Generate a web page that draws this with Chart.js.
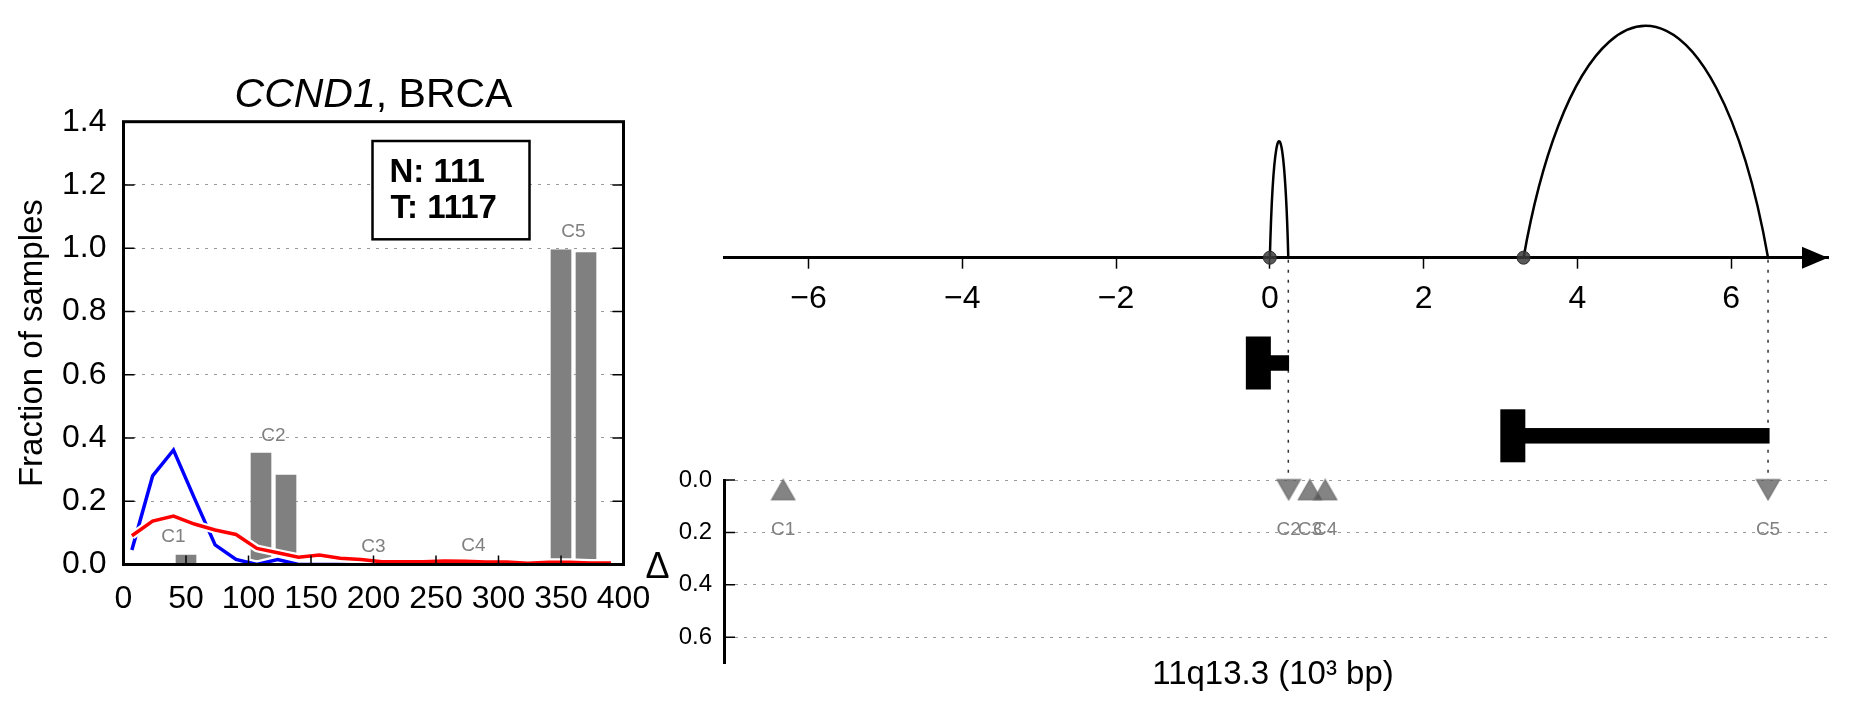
<!DOCTYPE html>
<html>
<head>
<meta charset="utf-8">
<title>CCND1, BRCA</title>
<script src="https://cdn.jsdelivr.net/npm/chart.js@4.4.1/dist/chart.umd.min.js"></script>
<style>
  html, body { margin: 0; padding: 0; background: #fff; }
  #wrap { position: relative; width: 1851px; height: 718px; overflow: hidden; }
  canvas { position: absolute; }
  #histChart { left: 0; top: 0; width: 660px; height: 718px; }
  #arcChart { left: 640px; top: 0; width: 1211px; height: 500px; }
  #deltaChart { left: 640px; top: 440px; width: 1211px; height: 278px; }
</style>
</head>
<body>
<div id="wrap">
  <canvas id="histChart" width="660" height="718"></canvas>
  <canvas id="arcChart" width="1211" height="500"></canvas>
  <canvas id="deltaChart" width="1211" height="278"></canvas>
</div>
<script>
const FONT = '"Liberation Sans", Arial, Helvetica, sans-serif';

// left panel: fraction of samples per bin
const binX = [6.7, 23.3, 40, 56.7, 73.3, 90, 106.7, 123.3, 140, 156.7, 173.3, 190,
              206.7, 223.3, 240, 256.7, 273.3, 290, 306.7, 323.3, 340, 356.7, 373.3, 390];
const normalFrac = [0.046, 0.28, 0.362, 0.21, 0.062, 0.016, 0, 0.016, 0, 0, 0, 0,
                    0, 0, 0, 0, 0, 0, 0, 0, 0, 0, 0, 0];
const tumorFrac = [0.091, 0.137, 0.153, 0.128, 0.109, 0.095, 0.051, 0.037, 0.023, 0.030, 0.020, 0.016,
                   0.009, 0.009, 0.009, 0.011, 0.010, 0.008, 0.008, 0.004, 0.007, 0.007, 0.005, 0.005];

const clusterNames = ['C1', 'C2', 'C3', 'C4', 'C5'];
const clusterX = [40, 120, 200, 280, 360];
const barX = [30, 50, 110, 130, 190, 210, 270, 290, 350, 370];
const barVals = [0, 0.03, 0.352, 0.283, 0, 0, 0, 0.004, 0.995, 0.986];

const nCount = 111;
const tCount = 1117;

// right panel: region (10^3 bp)
const arcStart = [0.0, 3.30];
const arcEnd = [0.24, 6.48];
const arcHeight = [0.49, 0.975];
const geneStart = [0.0, 3.31];
const geneEnd = [0.25, 6.50];
const geneLane = [0, 1];

const deltaX = [-6.33, 0.245, 0.52, 0.72, 6.48];
const deltaY = [0.037, 0.037, 0.037, 0.037, 0.037];
const deltaDir = ['up', 'down', 'up', 'up', 'down'];

function xy(xs, ys) {
    return xs.map((x, i) => ({ x: x, y: ys[i] }));
}

//----- left histogram -----

const histDecor = {
    id: 'histDecor',
    afterDatasetsDraw(chart) {
        const { ctx, chartArea: a, scales: { x, y } } = chart;
        ctx.save();

        // cluster labels above bar pairs
        ctx.fillStyle = '#808080';
        ctx.font = '19px ' + FONT;
        ctx.textAlign = 'center';
        ctx.textBaseline = 'alphabetic';
        clusterNames.forEach((name, i) => {
            const top = Math.max(barVals[2 * i], barVals[2 * i + 1]);
            ctx.fillText(name, x.getPixelForValue(clusterX[i]), y.getPixelForValue(top + 0.04));
        });

        // frame + inner ticks
        ctx.strokeStyle = '#000';
        ctx.lineWidth = 3;
        ctx.strokeRect(a.left, a.top, a.width, a.height);
        ctx.lineWidth = 1.5;
        ctx.beginPath();
        y.ticks.forEach(t => {
            const py = y.getPixelForValue(t.value);
            ctx.moveTo(a.left, py); ctx.lineTo(a.left + 11, py);
            ctx.moveTo(a.right, py); ctx.lineTo(a.right - 11, py);
        });
        x.ticks.forEach(t => {
            const px = x.getPixelForValue(t.value);
            ctx.moveTo(px, a.bottom); ctx.lineTo(px, a.bottom - 9);
        });
        ctx.stroke();

        // N / T box
        const bx = a.left + a.width * 0.498, by = a.top + a.height * 0.0436;
        const bw = a.width * 0.314, bh = a.height * 0.222;
        ctx.fillStyle = '#fff';
        ctx.fillRect(bx, by, bw, bh);
        ctx.lineWidth = 2.5;
        ctx.strokeRect(bx, by, bw, bh);
        ctx.fillStyle = '#000';
        ctx.font = 'bold 33px ' + FONT;
        ctx.textAlign = 'left';
        ctx.fillText('N: ' + nCount, bx + 17, by + 41);
        ctx.fillText('T: ' + tCount, bx + 18, by + 77);

        // title: italic gene name + cohort
        const cx = (a.left + a.right) / 2;
        ctx.font = 'italic 41px ' + FONT;
        const w1 = ctx.measureText('CCND1').width;
        ctx.font = '41px ' + FONT;
        const w2 = ctx.measureText(', BRCA').width;
        const sx = cx - (w1 + w2) / 2;
        ctx.font = 'italic 41px ' + FONT;
        ctx.fillText('CCND1', sx, a.top - 15);
        ctx.font = '41px ' + FONT;
        ctx.fillText(', BRCA', sx + w1, a.top - 15);

        // y title
        ctx.translate(32.5, (a.top + a.bottom) / 2);
        ctx.rotate(-Math.PI / 2);
        ctx.textAlign = 'center';
        ctx.textBaseline = 'middle';
        ctx.font = '33px ' + FONT;
        ctx.fillText('Fraction of samples', 0, 0);
        ctx.restore();
    }
};

new Chart(document.getElementById('histChart'), {
    type: 'bar',
    data: {
        datasets: [
            { type: 'bar', data: xy(barX, barVals), backgroundColor: '#808080', borderWidth: 0, barThickness: 20, order: 10 },
            { type: 'line', data: xy(binX, normalFrac), borderColor: '#ffffff', borderWidth: 8, pointRadius: 0, borderJoinStyle: 'round', order: 4 },
            { type: 'line', data: xy(binX, normalFrac), borderColor: '#0000ff', borderWidth: 3.5, pointRadius: 0, order: 3 },
            { type: 'line', data: xy(binX, tumorFrac), borderColor: '#ffffff', borderWidth: 8, pointRadius: 0, borderJoinStyle: 'round', order: 2 },
            { type: 'line', data: xy(binX, tumorFrac), borderColor: '#ff0000', borderWidth: 3.5, pointRadius: 0, order: 1 }
        ]
    },
    options: {
        responsive: false,
        animation: false,
        layout: { padding: { left: 0, right: 36.5, top: 121.7, bottom: 93.5 } },
        plugins: { legend: { display: false }, tooltip: { enabled: false } },
        scales: {
            x: {
                type: 'linear', min: 0, max: 400, offset: false,
                grid: { display: false, offset: false },
                border: { display: false },
                ticks: { stepSize: 50, padding: 7.5, color: '#000', maxRotation: 0, font: { family: FONT, size: 32 } },
                afterFit: s => { s.height = 60; s.paddingLeft = 0; s.paddingRight = 0; }
            },
            y: {
                min: 0, max: 1.4,
                grid: { color: '#9a9a9a', lineWidth: 1, drawTicks: false },
                border: { display: false, dash: [3, 6] },
                ticks: { stepSize: 0.2, padding: 17, color: '#000', font: { family: FONT, size: 32 }, callback: v => v.toFixed(1) },
                afterFit: s => { s.width = 123.5; s.paddingTop = 0; s.paddingBottom = 0; }
            }
        }
    },
    plugins: [histDecor]
});

//----- right top: arcs on the region axis -----

const arcDecor = {
    id: 'arcDecor',
    beforeDatasetsDraw(chart) {
        const { ctx, scales: { x, y } } = chart;
        const y0 = y.getPixelForValue(0);
        ctx.save();

        // dotted guides from arc ends down to the delta panel
        ctx.strokeStyle = '#333';
        ctx.lineWidth = 1.5;
        ctx.setLineDash([3, 7]);
        arcEnd.forEach(v => {
            const px = x.getPixelForValue(v);
            ctx.beginPath(); ctx.moveTo(px, y0 + 2); ctx.lineTo(px, 480); ctx.stroke();
        });
        ctx.setLineDash([]);

        // arcs
        ctx.strokeStyle = '#000';
        ctx.lineWidth = 2.5;
        arcStart.forEach((s, i) => {
            const x1 = x.getPixelForValue(s), x2 = x.getPixelForValue(arcEnd[i]);
            const h = y0 - y.getPixelForValue(arcHeight[i]);
            const half = (x2 - x1) / 2;
            ctx.beginPath();
            ctx.ellipse(x1 + half, y0 + h, half / Math.cos(Math.PI / 6), 2 * h, 0, -5 * Math.PI / 6, -Math.PI / 6);
            ctx.stroke();
        });

        // genes
        ctx.fillStyle = '#000';
        geneStart.forEach((s, i) => {
            const xs = x.getPixelForValue(s), xe = x.getPixelForValue(geneEnd[i]);
            const yc = y0 + 105.3 + geneLane[i] * 72.8;
            ctx.fillRect(xs - 24, yc - 26.5, 25, 53);
            ctx.fillRect(xs, yc - 7.75, xe - xs, 15.5);
        });
        ctx.restore();
    },
    afterDraw(chart) {
        const { ctx, chartArea: a, scales: { y } } = chart;
        const y0 = y.getPixelForValue(0);
        ctx.save();
        ctx.fillStyle = '#000';
        ctx.beginPath();
        ctx.moveTo(a.right, y0);
        ctx.lineTo(a.right - 26, y0 - 11);
        ctx.lineTo(a.right - 26, y0 + 11);
        ctx.closePath();
        ctx.fill();
        ctx.restore();
    }
};

new Chart(document.getElementById('arcChart'), {
    type: 'scatter',
    data: {
        datasets: [{
            data: arcStart.map(v => ({ x: v, y: 0 })),
            pointRadius: 6.5,
            backgroundColor: 'rgba(60,60,60,0.85)',
            borderColor: '#2b2b2b',
            borderWidth: 1,
            clip: false
        }]
    },
    options: {
        responsive: false,
        animation: false,
        layout: { padding: { left: 84, right: 23, top: 20, bottom: 182.3 } },
        plugins: { legend: { display: false }, tooltip: { enabled: false } },
        scales: {
            x: {
                type: 'linear', min: -7.1, max: 7.26,
                grid: { drawOnChartArea: false, drawTicks: true, tickLength: 11, color: '#000', tickWidth: 1.5 },
                border: { display: true, color: '#000', width: 3 },
                ticks: {
                    stepSize: 2, includeBounds: false, padding: 11, color: '#000', maxRotation: 0,
                    font: { family: FONT, size: 32 },
                    callback: v => v < 0 ? '\u2212' + Math.abs(v) : String(v)
                },
                afterFit: s => { s.height = 60; s.paddingLeft = 0; s.paddingRight = 0; }
            },
            y: { display: false, min: 0, max: 1 }
        }
    },
    plugins: [arcDecor]
});

//----- right bottom: delta markers -----

function makeTriangle(up) {
    const c = document.createElement('canvas');
    c.width = 26; c.height = 23;
    const g = c.getContext('2d');
    g.beginPath();
    if (up) { g.moveTo(13, 1.5); g.lineTo(24.5, 21.5); g.lineTo(1.5, 21.5); }
    else { g.moveTo(1.5, 1.5); g.lineTo(24.5, 1.5); g.lineTo(13, 21.5); }
    g.closePath();
    g.fillStyle = 'rgba(80,80,80,0.7)';
    g.fill();
    g.strokeStyle = 'rgba(110,110,110,0.8)';
    g.lineWidth = 1.5;
    g.stroke();
    return c;
}
const triUp = makeTriangle(true);
const triDown = makeTriangle(false);

const deltaDecor = {
    id: 'deltaDecor',
    afterDraw(chart) {
        const { ctx, chartArea: a, scales: { x, y } } = chart;
        ctx.save();
        ctx.strokeStyle = '#000';
        ctx.lineWidth = 1.5;
        ctx.beginPath();
        y.ticks.forEach(t => {
            const py = y.getPixelForValue(t.value);
            ctx.moveTo(a.left, py); ctx.lineTo(a.left + 11, py);
        });
        ctx.stroke();

        ctx.fillStyle = '#808080';
        ctx.font = '19px ' + FONT;
        ctx.textAlign = 'center';
        ctx.textBaseline = 'middle';
        clusterNames.forEach((name, i) => {
            ctx.fillText(name, x.getPixelForValue(deltaX[i]), y.getPixelForValue(0.19));
        });

        ctx.fillStyle = '#000';
        ctx.font = '36px ' + FONT;
        ctx.fillText('\u0394', a.left - 66.5, (a.top + a.bottom) / 2 - 4);

        ctx.font = '33px ' + FONT;
        ctx.textBaseline = 'alphabetic';
        ctx.fillText('11q13.3 (10\u00b3 bp)', (a.left + a.right) / 2 - 3, a.bottom + 20);
        ctx.restore();
    }
};

new Chart(document.getElementById('deltaChart'), {
    type: 'scatter',
    data: {
        datasets: [{
            data: xy(deltaX, deltaY),
            pointStyle: c => deltaDir[c.dataIndex] === 'up' ? triUp : triDown,
            pointRadius: 10,
            clip: false
        }]
    },
    options: {
        responsive: false,
        animation: false,
        layout: { padding: { left: 0, right: 23, top: 40, bottom: 54.5 } },
        plugins: { legend: { display: false }, tooltip: { enabled: false } },
        scales: {
            x: { type: 'linear', min: -7.1, max: 7.26, display: false },
            y: {
                min: 0, max: 0.7, reverse: true,
                grid: { color: '#9a9a9a', lineWidth: 1, drawTicks: false },
                border: { display: true, color: '#000', width: 3, dash: [3, 6] },
                ticks: { stepSize: 0.2, includeBounds: false, padding: 12, color: '#000', font: { family: FONT, size: 24 }, callback: v => v.toFixed(1) },
                afterFit: s => { s.width = 84; s.paddingTop = 0; s.paddingBottom = 0; }
            }
        }
    },
    plugins: [deltaDecor]
});
</script>
</body>
</html>
